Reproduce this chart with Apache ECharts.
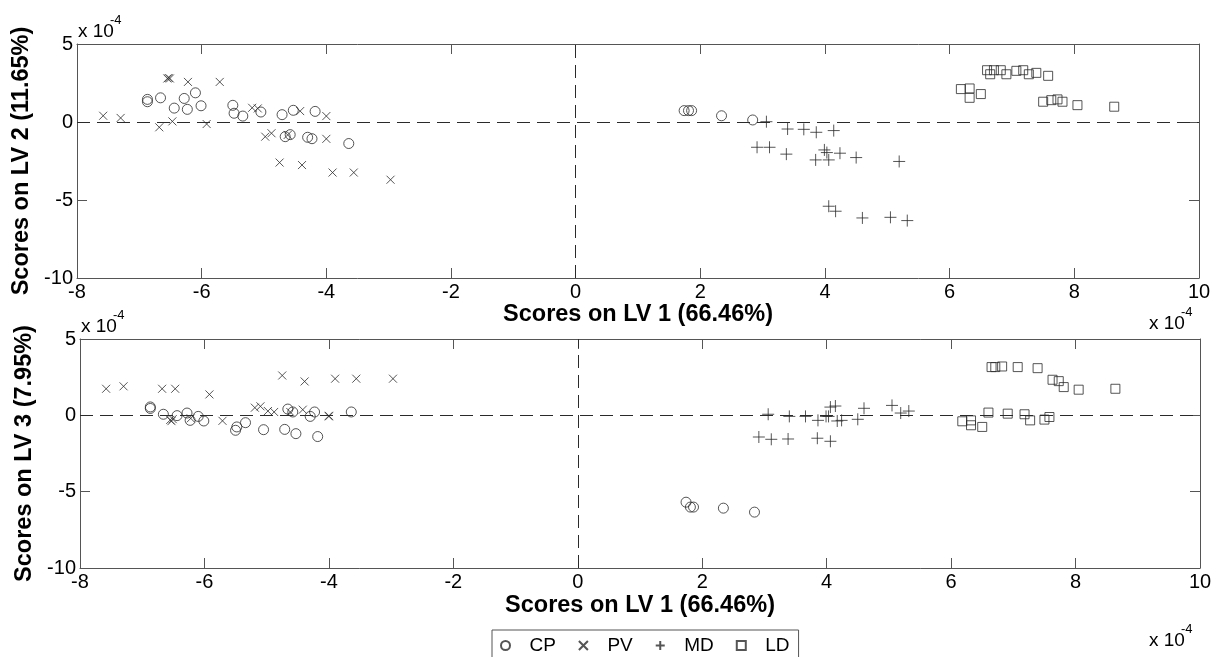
<!DOCTYPE html>
<html>
<head>
<meta charset="utf-8">
<script src="https://cdn.jsdelivr.net/npm/echarts@6/dist/echarts.min.js"></script>
<style>
html,body{margin:0;padding:0;background:#fff;}
#chart{width:1217px;height:657px;}
</style>
</head>
<body>
<div id="chart"></div>
<script>
// Scores in units of 1e-4
const groups = ['CP', 'PV', 'MD', 'LD'];

const cpLV1 = [-6.87,-6.87,-6.66,-6.44,-6.28,-6.23,-6.10,-6.01,-5.50,-5.48,-5.34,-5.05,-4.71,-4.66,-4.58,-4.53,-4.30,-4.23,-4.18,-3.64,1.74,1.81,1.86,2.34,2.84];
const cpLV2 = [1.45,1.30,1.55,0.89,1.51,0.81,1.87,1.04,1.07,0.56,0.38,0.64,0.47,-0.94,-0.81,0.75,-0.98,-1.07,0.68,-1.38,0.73,0.73,0.73,0.40,0.13];
const cpLV3 = [0.55,0.45,0.07,-0.02,0.15,-0.33,-0.07,-0.37,-0.98,-0.76,-0.48,-0.94,-0.92,0.41,0.22,-1.20,-0.07,0.22,-1.39,0.22,-5.69,-6.01,-6.01,-6.08,-6.34];

const pvLV1 = [-7.58,-7.30,-6.68,-6.55,-6.53,-6.51,-6.47,-6.22,-5.92,-5.71,-5.19,-5.10,-4.98,-4.88,-4.75,-4.62,-4.42,-4.39,-4.00,-4.00,-3.90,-3.56,-2.97];
const pvLV2 = [0.40,0.26,-0.34,2.79,2.82,2.79,0.04,2.57,-0.13,2.57,0.91,0.87,-0.94,-0.72,-2.60,-0.83,0.70,-2.76,0.38,-1.08,-3.24,-3.24,-3.70];
const pvLV3 = [1.74,1.90,1.74,-0.30,-0.38,-0.25,1.74,-0.20,1.37,-0.36,0.50,0.59,0.28,0.22,2.61,0.22,0.37,2.22,-0.07,-0.03,2.40,2.40,2.40];

const mdLV1 = [2.91,3.06,3.11,3.38,3.40,3.66,3.85,3.86,3.99,4.03,4.06,4.06,4.14,4.17,4.24,4.50,4.60,5.05,5.19,5.32];
const mdLV2 = [-1.62,0.02,-1.62,-2.06,-0.45,-0.47,-2.43,-0.66,-1.79,-1.96,-2.43,-5.40,-0.55,-5.72,-2.00,-2.28,-6.15,-6.11,-2.53,-6.32];
const mdLV3 = [-1.42,0.07,-1.57,-1.55,-0.07,-0.07,-1.50,-0.33,-0.07,-0.07,-1.70,0.54,0.61,-0.37,-0.33,-0.26,0.46,0.65,0.15,0.28];

const ldLV1 = [6.18,6.32,6.32,6.50,6.60,6.65,6.71,6.82,6.91,7.07,7.18,7.27,7.39,7.50,7.58,7.63,7.73,7.81,8.05,8.64];
const ldLV2 = [2.11,2.15,1.55,1.79,3.32,3.06,3.32,3.32,3.06,3.28,3.32,3.06,3.15,1.30,2.96,1.40,1.45,1.30,1.08,0.98];
const ldLV3 = [-0.39,-0.33,-0.65,-0.76,0.18,3.16,3.16,3.20,0.11,3.16,0.07,-0.33,3.09,-0.28,-0.11,2.33,2.24,1.85,1.68,1.74];

const xTitle = 'Scores on LV 1 (66.46%)';
const yTitleTop = 'Scores on LV 2 (11.65%)';
const yTitleBottom = 'Scores on LV 3 (7.95%)';

const FONT = '"Liberation Sans", Arial, Helvetica, sans-serif';
const INK = '#2a2a2a';
const FRAME = '#555';

const zip = (a, b) => a.map((v, i) => [v, b[i]]);
const groupData = {
  CP: [cpLV1, cpLV2, cpLV3],
  PV: [pvLV1, pvLV2, pvLV3],
  MD: [mdLV1, mdLV2, mdLV3],
  LD: [ldLV1, ldLV2, ldLV3]
};
const symbols = {
  CP: {symbol: 'circle', size: 10},
  PV: {symbol: 'path://M0,0L10,10M10,0L0,10', size: 8},
  MD: {symbol: 'path://M5,0L5,10M0,5L10,5', size: 12},
  LD: {symbol: 'path://M0,0L10,0L10,10L0,10Z', size: 9}
};

const grids = [
  {left: 77, top: 44, width: 1122, height: 234},
  {left: 80, top: 339, width: 1120, height: 229}
];

function xAxisFor(gi, top, nameGap) {
  return {
    type: 'value', gridIndex: gi, min: -8, max: 10, interval: 2,
    position: top ? 'top' : 'bottom',
    name: top ? '' : xTitle, nameLocation: 'middle', nameGap: nameGap,
    nameTextStyle: {fontFamily: FONT, fontSize: 23.5, fontWeight: 'bold', color: '#000'},
    axisLine: {show: true, onZero: false, lineStyle: {color: FRAME, width: 1}},
    axisTick: {show: true, inside: true, length: 10, lineStyle: {color: FRAME}},
    axisLabel: {show: !top, fontFamily: FONT, fontSize: 20, color: '#000', margin: 4},
    splitLine: {show: false}
  };
}
function yAxisFor(gi, right, name, nameGap) {
  return {
    type: 'value', gridIndex: gi, min: -10, max: 5, interval: 5,
    position: right ? 'right' : 'left',
    name: right ? '' : name, nameLocation: 'middle', nameGap: nameGap, nameRotate: 90,
    nameTextStyle: {fontFamily: FONT, fontSize: 23.5, fontWeight: 'bold', color: '#000'},
    axisLine: {show: true, onZero: false, lineStyle: {color: FRAME, width: 1}},
    axisTick: {show: true, inside: true, length: 10, lineStyle: {color: FRAME}},
    axisLabel: {show: !right, fontFamily: FONT, fontSize: 20, color: '#000', margin: 4},
    splitLine: {show: false}
  };
}

const series = [];
[0, 1].forEach(gi => {
  groups.forEach((g, k) => {
    const d = groupData[g];
    const s = {
      name: g, type: 'scatter', xAxisIndex: gi, yAxisIndex: gi,
      data: zip(d[0], gi === 0 ? d[1] : d[2]),
      symbol: symbols[g].symbol, symbolSize: symbols[g].size,
      itemStyle: {color: 'rgba(0,0,0,0)', borderColor: INK, borderWidth: 1},
      emphasis: {disabled: true},
      z: 3
    };
    if (k === 0) {
      s.markLine = {
        silent: true, symbol: 'none', animation: false,
        label: {show: false},
        lineStyle: {color: INK, width: 1, type: [13, 7]},
        data: [{xAxis: 0}, {yAxis: 0}]
      };
    }
    series.push(s);
  });
});

function expText(x, y) {
  return [
    {type: 'text', left: x, top: y - 11, style: {text: 'x 10', font: '19px ' + FONT, fill: '#000'}},
    {type: 'text', left: x + 32, top: y - 19, style: {text: '-4', font: '13px ' + FONT, fill: '#000'}}
  ];
}

const option = {
  animation: false,
  backgroundColor: '#fff',
  grid: grids,
  xAxis: [xAxisFor(0, false, 21), xAxisFor(1, false, 26), xAxisFor(0, true, 0), xAxisFor(1, true, 0)],
  yAxis: [yAxisFor(0, false, yTitleTop, 35), yAxisFor(1, false, yTitleBottom, 39), yAxisFor(0, true, '', 0), yAxisFor(1, true, '', 0)],
  legend: {
    data: groups,
    left: 492, top: 630,
    orient: 'horizontal',
    padding: [6, 9, 12, 8],
    itemGap: 22,
    itemWidth: 10, itemHeight: 9,
    borderColor: FRAME, borderWidth: 1,
    backgroundColor: '#fff',
    selectedMode: false,
    formatter: n => '{t|' + n + '}',
    textStyle: {fontFamily: FONT, fontSize: 19, color: '#000',
      rich: {t: {fontFamily: FONT, fontSize: 19, color: '#000', padding: [0, 0, 0, 14]}}}
  },
  graphic: [].concat(
    expText(78, 33), expText(1149, 325), expText(81, 328), expText(1149, 642)
  ),
  series: series
};

const chart = echarts.init(document.getElementById('chart'), null, {renderer: 'canvas'});
chart.setOption(option);
</script>
</body>
</html>
